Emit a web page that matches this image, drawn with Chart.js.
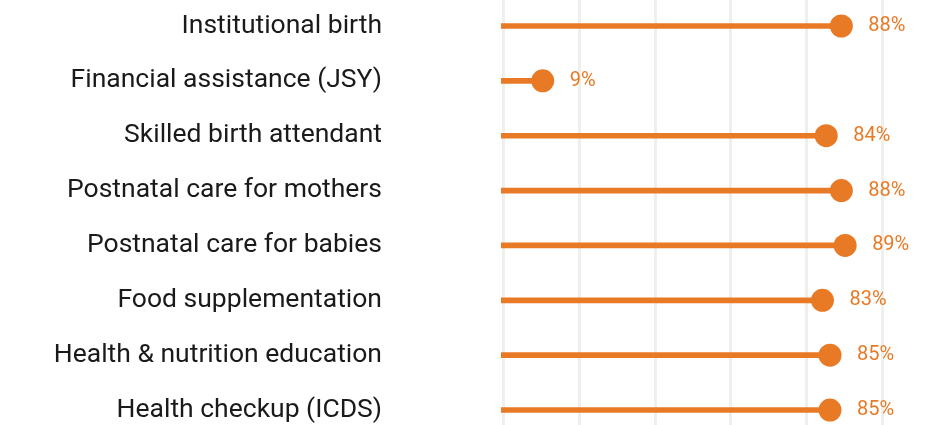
<!DOCTYPE html>
<html>
<head>
<meta charset="utf-8">
<script src="https://cdn.jsdelivr.net/npm/chart.js@4"></script>
<style>
  html, body { margin: 0; padding: 0; background: #fff; }
  #wrap { width: 936px; height: 425px; }
</style>
</head>
<body>
<div id="wrap"><canvas id="lollipop"></canvas></div>
<script>
const categories = [
    'Institutional birth',
    'Financial assistance (JSY)',
    'Skilled birth attendant',
    'Postnatal care for mothers',
    'Postnatal care for babies',
    'Food supplementation',
    'Health & nutrition education',
    'Health checkup (ICDS)'
];
const values = [88, 9, 84, 88, 89, 83, 85, 85];
const gridTicks = [0, 20, 40, 60, 80, 100];

const ORANGE = '#e87a26';
const X_MIN = -2.04, X_MAX = 100.87;

const idx = categories.map((c, i) => i);

// percentage labels to the right of each dot
const valueLabels = {
    id: 'valueLabels',
    afterDatasetsDraw(chart) {
        const meta = chart.getDatasetMeta(1);
        const c = chart.ctx;
        c.save();
        c.font = '20px Roboto';
        c.fillStyle = ORANGE;
        c.textBaseline = 'middle';
        c.textAlign = 'left';
        meta.data.forEach((pt, i) => {
            c.fillText(values[i] + '%', pt.x + 27, pt.y);
        });
        c.restore();
    }
};

new Chart(document.getElementById('lollipop').getContext('2d'), {
    type: 'bar',
    data: {
        datasets: [{
            data: idx.map(i => ({ x: values[i], y: i })),
            base: X_MIN,
            backgroundColor: ORANGE,
            barThickness: 5,
            xAxisID: 'x',
            yAxisID: 'y',
            order: 2
        }, {
            type: 'scatter',
            data: idx.map(i => ({ x: values[i], y: i })),
            backgroundColor: ORANGE,
            borderWidth: 0,
            pointRadius: 11.5,
            pointHoverRadius: 11.5,
            clip: false,
            xAxisID: 'x',
            yAxisID: 'y',
            order: 1
        }]
    },
    options: {
        indexAxis: 'y',
        responsive: true,
        maintainAspectRatio: false,
        animation: false,
        layout: { autoPadding: false, padding: { left: 0, right: 46, top: 0, bottom: 0 } },
        plugins: {
            legend: { display: false },
            tooltip: { enabled: false }
        },
        scales: {
            x: {
                type: 'linear',
                display: false,
                min: X_MIN,
                max: X_MAX
            },
            xg: {
                type: 'linear',
                position: 'bottom',
                min: -0.79,
                max: 102.1,
                afterBuildTicks: s => { s.ticks = gridTicks.map(v => ({ value: v })); },
                afterFit: s => { s.height = 0; },
                ticks: { display: false },
                border: { display: false },
                grid: { color: '#efefeb', lineWidth: 3, drawTicks: false }
            },
            y: {
                type: 'linear',
                reverse: true,
                offset: false,
                min: -0.474,
                max: 7.273,
                afterBuildTicks: s => { s.ticks = idx.map(v => ({ value: v })); },
                afterFit: s => { s.width = 501; s.paddingTop = 0; s.paddingBottom = 0; },
                border: { display: false },
                grid: { display: false, drawTicks: false, offset: false },
                ticks: {
                    padding: 119,
                    color: '#1a1a1a',
                    font: { family: 'Roboto', size: 26.5 },
                    callback: v => categories[v]
                }
            }
        }
    },
    plugins: [valueLabels]
});
</script>
</body>
</html>
